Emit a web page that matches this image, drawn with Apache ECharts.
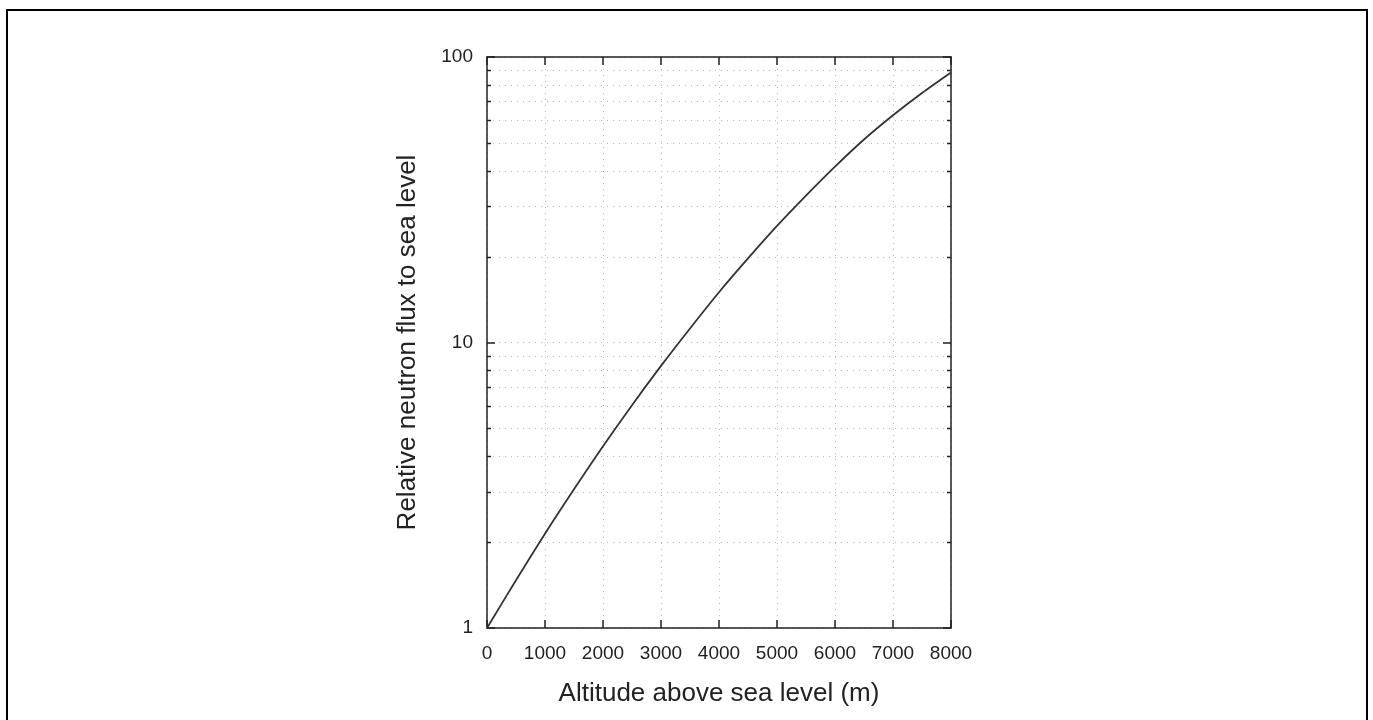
<!DOCTYPE html>
<html>
<head>
<meta charset="utf-8">
<script src="https://cdn.jsdelivr.net/npm/echarts@6/dist/echarts.min.js"></script>
<style>
  html, body { margin: 0; padding: 0; background: #fff; }
  #chart { width: 1373px; height: 720px; }
</style>
</head>
<body>
<div id="chart"></div>
<script>
// Altitude above sea level (m)
const altitude = [0, 500, 1000, 1500, 2000, 2500, 3000, 3500, 4000, 4500, 5000, 5500, 6000, 6500, 7000, 7500, 8000];
// Neutron flux relative to sea level
const flux = [1.0, 1.47, 2.14, 3.06, 4.33, 6.03, 8.28, 11.2, 15.0, 19.7, 25.6, 32.7, 41.3, 51.4, 62.5, 74.8, 88.3];
// Log-axis intermediate levels (2..9 and 20..90)
const minorLevels = [2, 3, 4, 5, 6, 7, 8, 9, 20, 30, 40, 50, 60, 70, 80, 90];
const xMin = 0, xMax = 8000, xStep = 1000;
const yMin = 1, yMax = 100;

const FONT = '"Liberation Sans", Arial, sans-serif';
const INK = '#222';
const GRID_DOT = { color: '#bdbdbd', width: 1, type: [1, 5] };

const chart = echarts.init(document.getElementById('chart'), null, { renderer: 'canvas' });

const baseX = {
  type: 'value', min: xMin, max: xMax, interval: xStep,
  axisLine: { show: true, onZero: false, lineStyle: { color: INK, width: 1.5 } },
  axisTick: { show: true, inside: true, length: 8, lineStyle: { color: INK, width: 1.5 } },
};
const baseY = {
  type: 'log', logBase: 10, min: yMin, max: yMax,
  axisLine: { show: true, onZero: false, lineStyle: { color: INK, width: 1.5 } },
  axisTick: { show: true, inside: true, length: 8, lineStyle: { color: INK, width: 1.5 } },
};

chart.setOption({
  animation: false,
  backgroundColor: '#fff',
  textStyle: { fontFamily: FONT },
  graphic: [{
    type: 'rect', silent: true, z: 100,
    shape: { x: 7, y: 10, width: 1360, height: 800 },
    style: { fill: 'none', stroke: '#000', lineWidth: 2 }
  }],
  grid: { left: 487, right: 422, top: 57, bottom: 92, containLabel: false },
  xAxis: [
    Object.assign({}, baseX, {
      position: 'bottom',
      name: 'Altitude above sea level (m)',
      nameLocation: 'middle', nameGap: 53,
      nameTextStyle: { fontSize: 26, color: INK, fontFamily: FONT },
      axisLabel: { show: true, margin: 16, fontSize: 19, color: INK, fontFamily: FONT,
                   formatter: v => String(v) },
      splitLine: { show: true, lineStyle: GRID_DOT }
    }),
    Object.assign({}, baseX, {
      position: 'top',
      axisLabel: { show: false },
      splitLine: { show: false }
    })
  ],
  yAxis: [
    Object.assign({}, baseY, {
      position: 'left',
      name: 'Relative neutron flux to sea level',
      nameLocation: 'middle', nameGap: 66, nameRotate: 90,
      nameTextStyle: { fontSize: 26, color: INK, fontFamily: FONT },
      axisLabel: { show: true, margin: 14, fontSize: 19, color: INK, fontFamily: FONT,
                   formatter: v => String(v) },
      splitLine: { show: true, lineStyle: GRID_DOT }
    }),
    Object.assign({}, baseY, {
      position: 'right',
      axisLabel: { show: false },
      splitLine: { show: false }
    })
  ],
  series: [
    {
      // dotted grid lines and short edge ticks at the intermediate log levels
      type: 'custom',
      silent: true,
      z: 1,
      xAxisIndex: 0, yAxisIndex: 0,
      encode: { x: 0, y: 1 },
      data: minorLevels.map(v => [xMin, v]),
      renderItem: function (params, api) {
        const cs = params.coordSys;
        const y = Math.round(api.coord([xMin, api.value(1)])[1]) + 0.5;
        const left = cs.x, right = cs.x + cs.width;
        return {
          type: 'group',
          children: [
            { type: 'line', shape: { x1: left, y1: y, x2: right, y2: y },
              style: { stroke: GRID_DOT.color, lineWidth: 1, lineDash: [1, 5] } },
            { type: 'line', shape: { x1: left, y1: y, x2: left + 4, y2: y },
              style: { stroke: INK, lineWidth: 1.5 } },
            { type: 'line', shape: { x1: right - 4, y1: y, x2: right, y2: y },
              style: { stroke: INK, lineWidth: 1.5 } }
          ]
        };
      }
    },
    {
      type: 'line',
      xAxisIndex: 0, yAxisIndex: 0,
      data: altitude.map((a, i) => [a, flux[i]]),
      smooth: 0.3,
      showSymbol: false,
      z: 5,
      lineStyle: { color: '#333', width: 1.8 }
    }
  ]
});
</script>
</body>
</html>
